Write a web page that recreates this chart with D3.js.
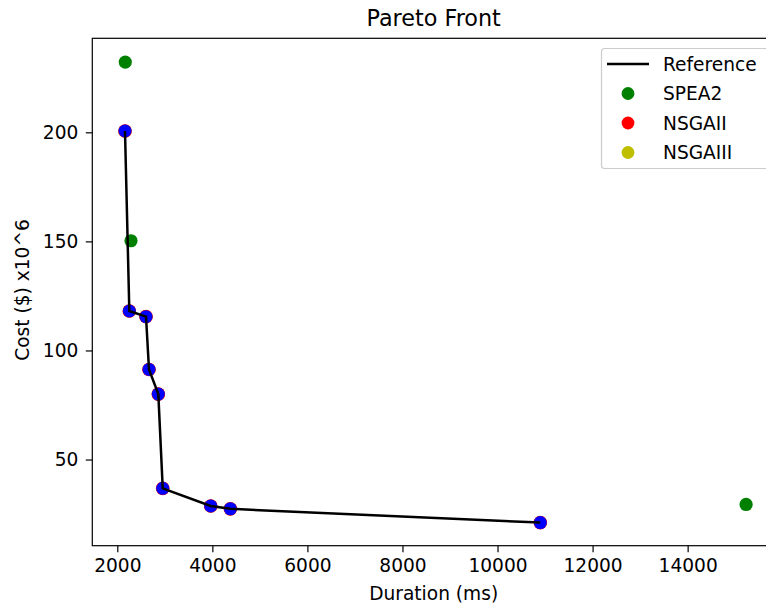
<!DOCTYPE html>
<html>
<head>
<meta charset="utf-8">
<script src="https://cdn.jsdelivr.net/npm/d3@7"></script>
<style>
  body { margin: 0; background: #fff; }
  text { font-family: "DejaVu Sans", sans-serif; fill: #000; }
</style>
</head>
<body>
<svg></svg>
<script>
// reference front (line + blue markers)
var refDuration = [2162, 2253, 2604, 2667, 2863, 2956, 3966, 4379, 10900];
var refCost = [200.6, 118.1, 115.5, 91.3, 80.0, 36.8, 28.7, 27.4, 21.1];

// algorithm results
var spea2Duration = [2168, 2288, 15230];
var spea2Cost = [232.2, 150.3, 29.4];
var nsga2Duration = [2162, 2253, 2604, 2667, 2863, 2956, 3966, 4379, 10900];
var nsga2Cost = [200.6, 118.1, 115.5, 91.3, 80.0, 36.8, 28.7, 27.4, 21.1];
var nsga3Duration = [2162, 2253, 2604, 2667, 2863, 2956, 3966, 4379, 10900];
var nsga3Cost = [200.6, 118.1, 115.5, 91.3, 80.0, 36.8, 28.7, 27.4, 21.1];

var xTicks = [2000, 4000, 6000, 8000, 10000, 12000, 14000];
var yTicks = [50, 100, 150, 200];

var svgWidth = 766;
var svgHeight = 607;
var fontSize = "18.6px";

var svg = d3.select("svg")
  .attr("width", svgWidth)
  .attr("height", svgHeight);

var plotLeft = 92.3, plotRight = 775, plotTop = 38.3, plotBottom = 545.7;

var xScale = d3.scaleLinear()
  .domain([1474, 15838])
  .range([plotLeft, plotRight]);

var yScale = d3.scaleLinear()
  .domain([10.5, 243.1])
  .range([plotBottom, plotTop]);

function pts(xs, ys) {
  return xs.map(function(d, i) { return [d, ys[i]]; });
}

// axes
var xAxis = svg.append("g")
  .attr("transform", "translate(0," + plotBottom + ")")
  .call(d3.axisBottom(xScale).tickValues(xTicks).tickSize(6.5).tickPadding(6.5).tickFormat(d3.format("d")));
var yAxis = svg.append("g")
  .attr("transform", "translate(" + plotLeft + ",0)")
  .call(d3.axisLeft(yScale).tickValues(yTicks).tickSize(6.5).tickPadding(7.5).tickFormat(d3.format("d")));

[xAxis, yAxis].forEach(function(a) {
  a.select(".domain").remove();
  a.selectAll("line").attr("stroke", "#000").attr("stroke-width", 1.2);
  a.selectAll("text")
    .style("font-size", fontSize)
    .style("font-family", "DejaVu Sans, sans-serif")
    .attr("fill", "#000");
});

// frame
svg.append("rect")
  .attr("x", plotLeft)
  .attr("y", plotTop)
  .attr("width", plotRight - plotLeft)
  .attr("height", plotBottom - plotTop)
  .attr("fill", "none")
  .attr("stroke", "#000")
  .attr("stroke-width", 1.2);

function dots(data, color, r) {
  svg.append("g")
    .selectAll("circle")
    .data(data)
    .enter()
    .append("circle")
    .attr("cx", function(d) { return xScale(d[0]); })
    .attr("cy", function(d) { return yScale(d[1]); })
    .attr("r", r)
    .attr("fill", color);
}

dots(pts(spea2Duration, spea2Cost), "#008000", 6.6);
dots(pts(nsga3Duration, nsga3Cost), "#bfbf00", 6.6);
dots(pts(nsga2Duration, nsga2Cost), "#ff0000", 6.8);
dots(pts(refDuration, refCost), "#0000ff", 6.5);

var line = d3.line()
  .x(function(d) { return xScale(d[0]); })
  .y(function(d) { return yScale(d[1]); });

svg.append("path")
  .datum(pts(refDuration, refCost))
  .attr("d", line)
  .attr("fill", "none")
  .attr("stroke", "#000")
  .attr("stroke-width", 2.5);

// title and labels
svg.append("text")
  .attr("x", (plotLeft + plotRight) / 2)
  .attr("y", 26)
  .attr("text-anchor", "middle")
  .style("font-size", "22.3px")
  .text("Pareto Front");

svg.append("text")
  .attr("x", (plotLeft + plotRight) / 2)
  .attr("y", 600)
  .attr("text-anchor", "middle")
  .style("font-size", fontSize)
  .text("Duration (ms)");

svg.append("text")
  .attr("transform", "translate(28.5," + ((plotTop + plotBottom) / 2 - 2) + ") rotate(-90)")
  .attr("text-anchor", "middle")
  .style("font-size", fontSize)
  .text("Cost ($) x10^6");

// legend
var legend = svg.append("g");
legend.append("rect")
  .attr("x", 601.5)
  .attr("y", 48.5)
  .attr("width", 166)
  .attr("height", 120)
  .attr("rx", 3)
  .attr("fill", "#fff")
  .attr("fill-opacity", 0.8)
  .attr("stroke", "#cccccc")
  .attr("stroke-width", 1.2);

var legendNames = ["Reference", "SPEA2", "NSGAII", "NSGAIII"];
var legendColors = ["#000", "#008000", "#ff0000", "#bfbf00"];

legendNames.forEach(function(name, i) {
  var yy = 64 + i * 29.5;
  if (i === 0) {
    legend.append("line")
      .attr("x1", 607).attr("x2", 649)
      .attr("y1", yy).attr("y2", yy)
      .attr("stroke", "#000")
      .attr("stroke-width", 2.5);
  } else {
    legend.append("circle")
      .attr("cx", 628).attr("cy", yy)
      .attr("r", 6.4)
      .attr("fill", legendColors[i]);
  }
  legend.append("text")
    .attr("x", 663)
    .attr("y", yy + 6.7)
    .style("font-size", fontSize)
    .text(name);
});
</script>
</body>
</html>
